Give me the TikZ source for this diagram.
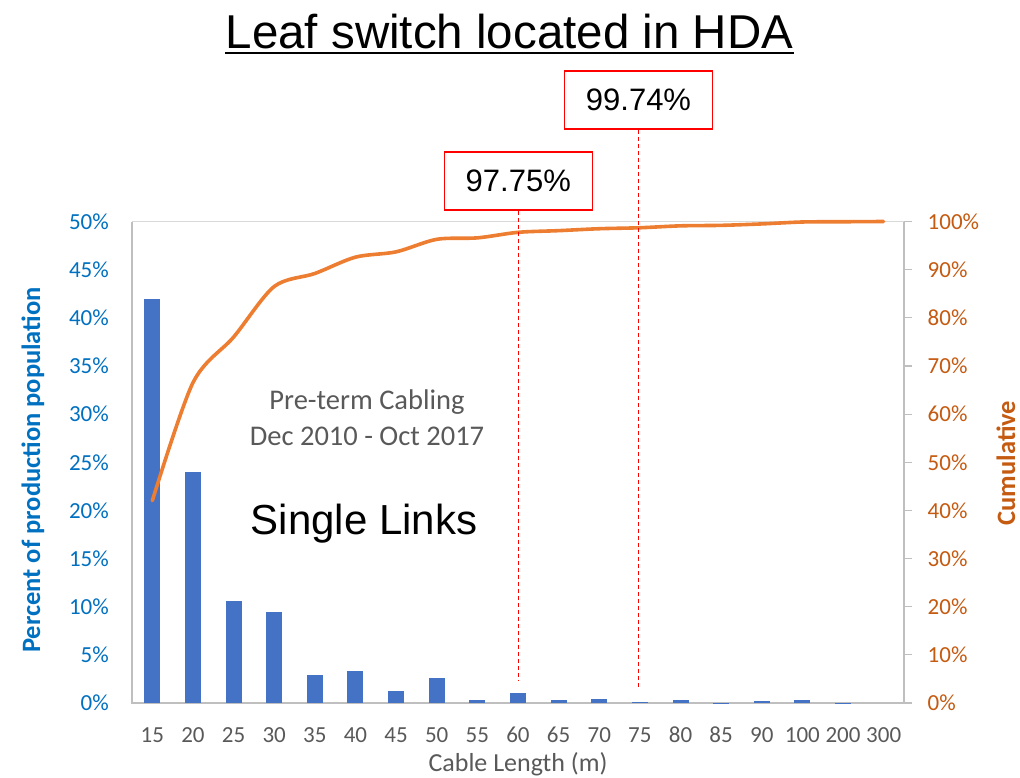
\documentclass[tikz,border=0pt]{standalone}
\usepackage{fontspec}
\setmainfont{Carlito}
\newfontfamily\arialf{Liberation Sans}
\definecolor{barblue}{HTML}{4472C4}
\definecolor{lineorange}{HTML}{ED7D31}
\definecolor{axblue}{HTML}{0070C0}
\definecolor{axorange}{HTML}{C55A11}
\definecolor{txtgray}{HTML}{595959}
\definecolor{axgray}{HTML}{BFBFBF}
\definecolor{gridgray}{HTML}{D9D9D9}
\definecolor{boxred}{HTML}{FF0000}
\tikzset{
  ticklbl/.style={font=\fontsize{23}{26}\selectfont, inner sep=0pt},
  axtitle/.style={font=\bfseries\fontsize{26.5}{30}\selectfont, inner sep=0pt},
  pctbox/.style={draw=boxred, line width=1.6pt, minimum width=148pt, minimum height=58pt, inner sep=0pt, font=\arialf\fontsize{31}{34}\selectfont, fill=white},
  guide/.style={draw=boxred, line width=1.3pt, dash pattern=on 4pt off 3pt},
}
\begin{document}
\begin{tikzpicture}[x=1pt,y=-1pt]
\useasboundingbox (0,0) rectangle (1020,777);
% plot frame
\draw[gridgray, line width=1.2pt] (132,221.5) -- (904,221.5);
\draw[axgray, line width=1.5pt] (132,221.5) -- (132,703) -- (904,703) -- (904,221.5);
\foreach \k in {0,...,10} {
  \draw[axgray, line width=1.2pt] (904,{703-\k*48.15}) -- (911.5,{703-\k*48.15});
}
% bars
\foreach \v [count=\i from 0] in {42,24,10.6,9.5,2.9,3.3,1.25,2.6,0.3,1.0,0.3,0.4,0.1,0.3,0.05,0.2,0.35,0.05,0} {
  \pgfmathsetmacro{\cx}{132+(\i+0.5)*40.63}
  \ifdim \v pt>0pt
    \fill[barblue] ({\cx-8},703) rectangle ({\cx+8},{703-\v*9.63});
  \fi
}
% x labels
\foreach \l [count=\i from 0] in {15,20,25,30,35,40,45,50,55,60,65,70,75,80,85,90,100,200,300} {
  \node[ticklbl, text=txtgray] (xl\i) at ({132+(\i+0.5)*40.63},735) {\l};
}
% left and right tick labels
\foreach \k in {0,...,10} {
  \pgfmathtruncatemacro{\lp}{\k*5}
  \pgfmathtruncatemacro{\rp}{\k*10}
  \node[ticklbl, text=axblue, anchor=east] (yl\k) at (109,{703-\k*48.15}) {\lp\%};
  \node[ticklbl, text=axorange, anchor=west] (yr\k) at (927.5,{703-\k*48.15}) {\rp\%};
}
% axis titles
\node[font=\fontsize{26}{30}\selectfont, text=txtgray, inner sep=0pt] (xtitle) at (518,764) {Cable Length (m)};
\node[axtitle, text=axblue, rotate=90] (ytitle) at (33,470) {Percent of production population};
\node[axtitle, text=axorange, rotate=90] (y2title) at (1006,463) {Cumulative};
% cumulative curve
\draw[lineorange, line width=3.6pt, line cap=round, line join=round]
  plot[smooth, tension=0.5] coordinates {
    (152.3,{703-42*4.815}) (192.9,{703-66.5*4.815}) (233.6,{703-76*4.815})
    (274.2,{703-86.5*4.815}) (314.8,{703-89.2*4.815}) (355.5,{703-92.6*4.815})
    (396.1,{703-93.7*4.815}) (436.7,{703-96.3*4.815}) (477.3,{703-96.6*4.815})
    (518.0,{703-97.75*4.815}) (558.6,{703-98.1*4.815}) (599.2,{703-98.5*4.815})
    (639.8,{703-98.7*4.815}) (680.5,{703-99.1*4.815}) (721.1,{703-99.2*4.815})
    (761.7,{703-99.5*4.815}) (802.4,{703-99.9*4.815}) (843.0,{703-99.95*4.815})
    (883.6,{703-100*4.815})};
% texts inside plot
\node[font=\fontsize{28.5}{36}\selectfont, text=txtgray, align=center, inner sep=0pt] (preterm) at (367,418) {Pre-term Cabling\\Dec 2010 - Oct 2017};
\node[font=\arialf\fontsize{42}{46}\selectfont, inner sep=0pt] (single) at (364,524) {Single Links};
% percentage boxes and guides
\node[pctbox] (b1) at (518.3,181) {97.75\%};
\node[pctbox] (b2) at (638.5,100) {99.74\%};
\coordinate (g1) at (518.3,681);
\coordinate (g2) at (638.5,689);
\draw[guide] (b1.south) -- (g1);
\draw[guide] (b2.south) -- (g2);
% title
\node[font=\arialf\fontsize{47.5}{50}\selectfont, inner sep=0pt, anchor=base] (title) at (509.5,48.5) {Leaf switch located in HDA};
\draw[line width=2.6pt] ([yshift=-4.5pt]title.base west) -- ([yshift=-4.5pt]title.base east);
\end{tikzpicture}
\end{document}
